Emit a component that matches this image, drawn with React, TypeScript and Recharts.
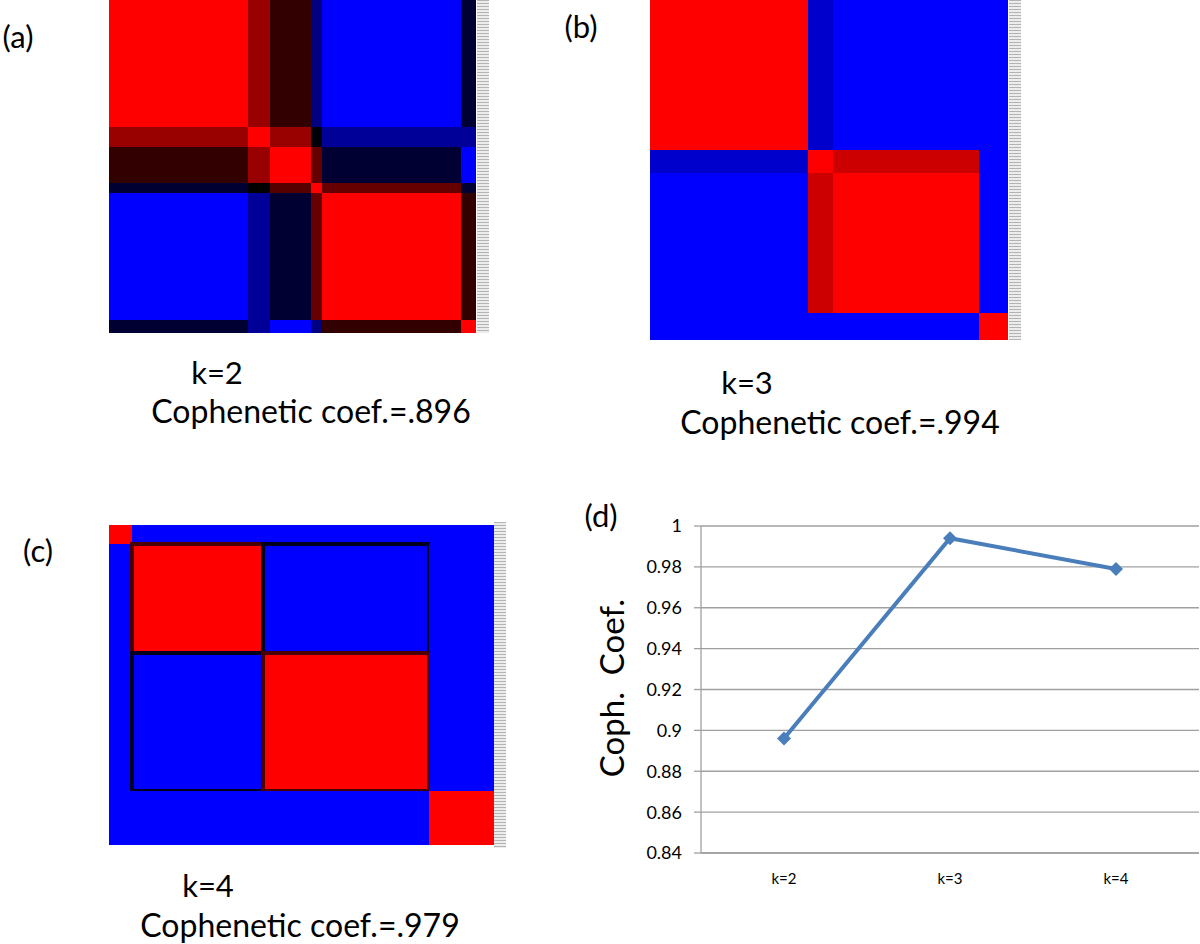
import React from 'react';
import { ComposedChart, LineChart, Line, XAxis, YAxis, CartesianGrid, ReferenceArea } from 'recharts';

const font = 'Lato, "Open Sans", sans-serif';

// consensus matrices: cluster boundaries (sample index, 100 samples) and mean consensus per block
const boundsK2 = [0, 38, 44, 55, 58, 96, 100];
const consensusK2 = [
  [1, 0.8, 0.6, 0.25, 0, 0.4],
  [0.8, 1, 0.8, 0.48, 0.2, 0.2],
  [0.6, 0.8, 1, 0.7, 0.4, 0],
  [0.4, 0.5, 0.67, 1, 0.7, 0.4],
  [0, 0.2, 0.4, 0.7, 1, 0.6],
  [0.4, 0.2, 0, 0.25, 0.6, 1],
];

const boundsK3 = [0, 44, 51, 92, 100];
const consensusK3 = [
  [1, 0.1, 0, 0],
  [0.1, 1, 0.9, 0],
  [0, 0.9, 1, 0],
  [0, 0, 0, 1],
];

const boundsK4 = [0, 6, 40, 83, 100];
const consensusK4 = [
  [1, 0, 0, 0],
  [0, 1, 0, 0],
  [0, 0, 1, 0],
  [0, 0, 0, 1],
];

// panel (d)
const kLabels = ['k=2', 'k=3', 'k=4'];
const cophCoef = [0.896, 0.994, 0.979];
const yTicks = [0.84, 0.86, 0.88, 0.9, 0.92, 0.94, 0.96, 0.98, 1];

// blue (0) -> black (0.5) -> red (1)
function toColor(v: number) {
  if (v >= 0.5) return `rgb(${Math.round((v - 0.5) * 510)},0,0)`;
  return `rgb(0,0,${Math.round((0.5 - v) * 510)})`;
}

type HeatProps = {
  bounds: number[];
  values: number[][];
  width: number;
  height: number;
  outline?: number[];
};

function Consensus({ bounds, values, width, height, outline }: HeatProps) {
  const n = bounds[bounds.length - 1];
  const cells: { i: number; j: number; v: number }[] = [];
  values.forEach((row, i) => row.forEach((v, j) => cells.push({ i, j, v })));
  const inBox = (i: number, j: number) =>
    !!outline && i >= outline[0] && i <= outline[1] && j >= outline[0] && j <= outline[1];
  return (
    <ComposedChart
      width={width}
      height={height}
      data={bounds.map((b) => ({ b }))}
      margin={{ top: 0, right: 0, bottom: 0, left: 0 }}
    >
      <XAxis type="number" dataKey="b" domain={[0, n]} hide />
      <YAxis type="number" dataKey="b" domain={[0, n]} reversed hide />
      {cells.map((c) => (
        <ReferenceArea
          key={`${c.i}-${c.j}`}
          x1={bounds[c.j]}
          x2={bounds[c.j + 1]}
          y1={bounds[c.i]}
          y2={bounds[c.i + 1]}
          fill={toColor(c.v)}
          fillOpacity={1}
          stroke={inBox(c.i, c.j) ? (c.v > 0.5 ? '#4a0000' : '#00001e') : 'none'}
          strokeWidth={inBox(c.i, c.j) ? 3.5 : 0}
          shapeRendering="crispEdges"
          ifOverflow="visible"
        />
      ))}
    </ComposedChart>
  );
}

function LabelStrip({ left, top, height }: { left: number; top: number; height: number }) {
  return (
    <div
      style={{
        position: 'absolute',
        left,
        top,
        width: 12,
        height,
        background: 'repeating-linear-gradient(to bottom, #b4b4b4 0px, #b4b4b4 1px, #ececec 1px, #ececec 3px)',
      }}
    />
  );
}

function Txt({ x, y, children, size = 31 }: { x: number; y: number; children: React.ReactNode; size?: number }) {
  return (
    <div
      style={{
        position: 'absolute',
        left: x,
        top: y,
        transform: 'translate(-50%, -50%)',
        fontFamily: font,
        fontSize: size,
        lineHeight: 1,
        whiteSpace: 'pre',
        color: '#000',
      }}
    >
      {children}
    </div>
  );
}

const Diamond = (props: any) => {
  const { cx, cy } = props;
  if (cx == null || cy == null) return null;
  const r = 7;
  return <path d={`M${cx},${cy - r}L${cx + r},${cy}L${cx},${cy + r}L${cx - r},${cy}Z`} fill="#4a7ebb" />;
};

function CophChart() {
  const data = kLabels.map((k, i) => ({ k, pos: i + 0.5, coef: cophCoef[i] }));
  return (
    <LineChart width={600} height={410} data={data} margin={{ top: 36, right: 1, bottom: 0, left: 0 }}>
      <CartesianGrid horizontal vertical={false} stroke="#a0a0a0" strokeWidth={1.3} />
      <XAxis
        xAxisId="edges"
        type="number"
        domain={[0, 3]}
        ticks={[0, 1, 2, 3]}
        tick={false}
        tickSize={6}
        tickLine={{ stroke: '#a0a0a0', strokeWidth: 1.3 }}
        axisLine={false}
        height={1}
      />
      <XAxis
        xAxisId={0}
        type="number"
        dataKey="pos"
        domain={[0, 3]}
        ticks={[0.5, 1.5, 2.5]}
        tickFormatter={(v: number) => kLabels[Math.floor(v)]}
        tickLine={false}
        axisLine={{ stroke: '#a0a0a0', strokeWidth: 1.3 }}
        tick={{ fill: '#000', fontSize: 15, fontFamily: font }}
        tickMargin={14}
        height={46}
      />
      <YAxis
        type="number"
        domain={[0.84, 1]}
        ticks={yTicks}
        interval={0}
        width={101}
        tickFormatter={(v: number) => String(Number(v.toFixed(2)))}
        tick={{ fill: '#000', fontSize: 18, fontFamily: font }}
        tickSize={7}
        tickMargin={12}
        tickLine={{ stroke: '#a0a0a0', strokeWidth: 1.3 }}
        axisLine={{ stroke: '#a0a0a0', strokeWidth: 1.3 }}
      />
      <Line
        dataKey="coef"
        stroke="#4a7ebb"
        strokeWidth={4}
        dot={<Diamond />}
        activeDot={false}
        isAnimationActive={false}
      />
    </LineChart>
  );
}

export default function App() {
  return (
    <div style={{ position: 'absolute', left: 0, top: 0, width: 1200, height: 944, background: '#fff', overflow: 'hidden' }}>
      {/* (a) k=2 */}
      <div style={{ position: 'absolute', left: 109, top: 0 }}>
        <Consensus bounds={boundsK2} values={consensusK2} width={367} height={333} />
      </div>
      <LabelStrip left={477} top={0} height={333} />
      <Txt x={18} y={36}>(a)</Txt>
      <Txt x={581} y={26}>(b)</Txt>
      <Txt x={217} y={372}>k=2</Txt>
      <Txt x={311} y={411} size={32}>Cophenetic coef.=.896</Txt>

      {/* (b) k=3 */}
      <div style={{ position: 'absolute', left: 650, top: 0 }}>
        <Consensus bounds={boundsK3} values={consensusK3} width={358} height={340} />
      </div>
      <LabelStrip left={1009} top={0} height={340} />
      <Txt x={747} y={382}>k=3</Txt>
      <Txt x={840} y={422} size={32}>Cophenetic coef.=.994</Txt>

      {/* (c) k=4 */}
      <div style={{ position: 'absolute', left: 109, top: 525 }}>
        <Consensus bounds={boundsK4} values={consensusK4} width={385} height={320} outline={[1, 2]} />
      </div>
      <LabelStrip left={494} top={522} height={326} />
      <Txt x={38} y={550}>(c)</Txt>
      <Txt x={208} y={885}>k=4</Txt>
      <Txt x={300} y={925} size={32}>Cophenetic coef.=.979</Txt>

      {/* (d) cophenetic coefficient vs k */}
      <div style={{ position: 'absolute', left: 600, top: 490 }}>
        <CophChart />
      </div>
      <Txt x={601} y={515}>(d)</Txt>
      <Txt x={611} y={688} size={33}>
        <div style={{ transform: 'rotate(-90deg)' }}>{'Coph.  Coef.'}</div>
      </Txt>
    </div>
  );
}
